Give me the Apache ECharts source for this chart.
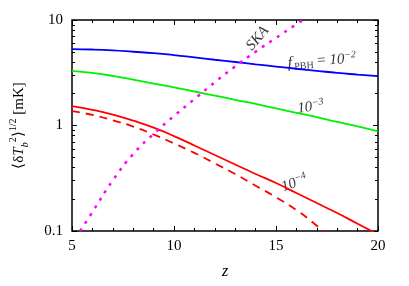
<!DOCTYPE html>
<html><head><meta charset="utf-8">
<script src="https://cdn.jsdelivr.net/npm/echarts@6/dist/echarts.min.js"></script>
<style>html,body{margin:0;padding:0;background:#fff}#c{width:409px;height:286px}</style>
</head><body><div id="c"></div>
<script>
// Data
var zValues   = [5, 6, 7, 8, 9, 10, 11, 12, 13, 14, 15, 16, 17, 18, 19, 20];
var blueVals  = [5.3, 5.25, 5.15, 5.0, 4.85, 4.65, 4.42, 4.2, 4.0, 3.8, 3.62, 3.45, 3.3, 3.15, 3.04, 2.94];
var greenVals = [3.3, 3.15, 2.95, 2.72, 2.5, 2.3, 2.1, 1.92, 1.75, 1.6, 1.45, 1.32, 1.2, 1.08, 0.98, 0.88];
var redVals   = [1.53, 1.41, 1.27, 1.11, 0.955, 0.794, 0.646, 0.525, 0.427, 0.347, 0.285, 0.229, 0.184, 0.148, 0.117, 0.093];
var redDashZ  = [5, 6, 7, 8, 9, 10, 11, 12, 13, 14, 15, 16, 17, 17.5];
var redDashVals = [1.37, 1.26, 1.12, 0.977, 0.822, 0.676, 0.55, 0.437, 0.347, 0.269, 0.209, 0.158, 0.112, 0.09];
var skaZ      = [5.4, 6, 7, 8, 9, 10, 11, 12, 13, 14, 15, 16, 16.4];
var skaVals   = [0.1, 0.151, 0.302, 0.537, 0.832, 1.23, 1.78, 2.57, 3.63, 5.01, 6.76, 9.12, 10.2];
var xTicks    = [5, 10, 15, 20];
var yTicks    = [0.1, 1, 10];
var yMinorTicks = [0.2, 0.3, 0.4, 0.5, 0.6, 0.7, 0.8, 0.9, 2, 3, 4, 5, 6, 7, 8, 9];

function pairs(xs, ys){ return xs.map(function(x,i){ return [x, ys[i]]; }); }

var serif = 'Liberation Serif';
var black = '#000';

function xAx(pos, withLabel){
  var a = { type: 'value', min: 5, max: 20, interval: 5, position: pos,
    axisLine: { show: false, onZero: false }, splitLine: { show: false },
    axisTick: { show: true, inside: true, length: 5, lineStyle: { color: black } },
    minorTick: { show: true, splitNumber: 5, length: 3, lineStyle: { color: black } },
    axisLabel: { show: false } };
  if (withLabel) {
    a.axisLabel = { show: true, color: black, fontFamily: serif, fontSize: 15, margin: 8 };
    a.name = 'z'; a.nameLocation = 'middle'; a.nameGap = 33;
    a.nameTextStyle = { color: black, fontFamily: serif, fontStyle: 'italic', fontSize: 16 };
  }
  return a;
}
function yAx(pos, minor, withLabel){
  var a = { type: 'log', logBase: 10, min: 0.1, max: 10, position: pos,
    axisLine: { show: false, onZero: false }, splitLine: { show: false },
    axisTick: { show: true, inside: true, length: minor ? 3 : 5, lineStyle: { color: black } },
    axisLabel: { show: false } };
  if (minor) a.axisTick.customValues = yMinorTicks;
  if (withLabel) {
    a.axisLabel = { show: true, color: black, fontFamily: serif, fontSize: 15, margin: 9,
      formatter: function(v){ return v < 1 ? '0.1' : String(Math.round(v)); } };
    a.name = '{a|⟨δ}{i|T}{sub|b}{sup|2}{a|⟩}{sup|1/2}{a| [mK]}';
    a.nameLocation = 'middle'; a.nameRotate = 90; a.nameGap = 42;
    a.nameTextStyle = { color: black, fontFamily: serif, fontSize: 15,
      rich: {
        a: { fontFamily: serif, fontSize: 15, color: black, lineHeight: 22 },
        i: { fontFamily: serif, fontSize: 15, fontStyle: 'italic', color: black, lineHeight: 22 },
        sub: { fontFamily: serif, fontSize: 10, fontStyle: 'italic', color: black, verticalAlign: 'bottom', lineHeight: 22 },
        sup: { fontFamily: serif, fontSize: 10, color: black, verticalAlign: 'top', lineHeight: 22 }
      } };
  }
  return a;
}

var option = {
  animation: false,
  backgroundColor: '#fff',
  grid: { left: 68, right: 31, top: 20, bottom: 55, show: true, borderColor: black, borderWidth: 1.5, backgroundColor: 'transparent' },
  xAxis: [ xAx('bottom', true), xAx('top', false) ],
  yAxis: [ yAx('left', false, true), yAx('left', true, false), yAx('right', false, false), yAx('right', true, false) ],
  series: [
    { type: 'line', name: 'f=1e-2', data: pairs(zValues, blueVals), smooth: true, showSymbol: false,
      lineStyle: { color: '#0000ff', width: 1.8 }, clip: true },
    { type: 'line', name: 'f=1e-3', data: pairs(zValues, greenVals), smooth: true, showSymbol: false,
      lineStyle: { color: '#00f000', width: 1.8 }, clip: true },
    { type: 'line', name: 'f=1e-4', data: pairs(zValues, redVals), smooth: true, showSymbol: false,
      lineStyle: { color: '#ff0000', width: 1.8 }, clip: true },
    { type: 'line', name: 'f=1e-4 dashed', data: pairs(redDashZ, redDashVals), smooth: true, showSymbol: false,
      lineStyle: { color: '#ff0000', width: 1.8, type: [8, 6] }, clip: true },
    { type: 'line', name: 'SKA', data: pairs(skaZ, skaVals), smooth: true, showSymbol: false,
      lineStyle: { color: '#ff00ff', width: 2.5, type: [3, 6] }, clip: true },
    { type: 'scatter', symbolSize: 0, silent: true,
      labelLayout: { hideOverlap: false },
      label: { show: true, position: 'inside', color: black, fontFamily: serif, fontSize: 14,
        rich: {
          i: { fontFamily: serif, fontStyle: 'italic', fontSize: 16, color: black, lineHeight: 18, padding: [0, 2, 0, 0] },
          n: { fontFamily: serif, fontStyle: 'italic', fontSize: 15, color: black, lineHeight: 18 },
          m: { fontFamily: serif, fontSize: 15, color: black, lineHeight: 18 },
          sub: { fontFamily: serif, fontSize: 10, color: black, verticalAlign: 'bottom', lineHeight: 14 },
          sup: { fontFamily: serif, fontStyle: 'italic', fontSize: 10, color: black, verticalAlign: 'top', lineHeight: 18 }
        } },
      data: [
        { value: [14.1, 6.7], label: { formatter: '{n|SKA}', rotate: 50 } },
        { value: [17.25, 4.1], label: { formatter: '{i|f}{sub|PBH}{m| = }{n|10}{sup|−2}', rotate: 4 } },
        { value: [16.7, 1.49], label: { formatter: '{n|10}{sup|−3}', rotate: 7 } },
        { value: [15.9, 0.283], label: { formatter: '{n|10}{sup|−4}', rotate: 20 } }
      ] }
  ]
};
var chart = echarts.init(document.getElementById('c'), null, { renderer: 'canvas' });
chart.setOption(option);
</script></body></html>
